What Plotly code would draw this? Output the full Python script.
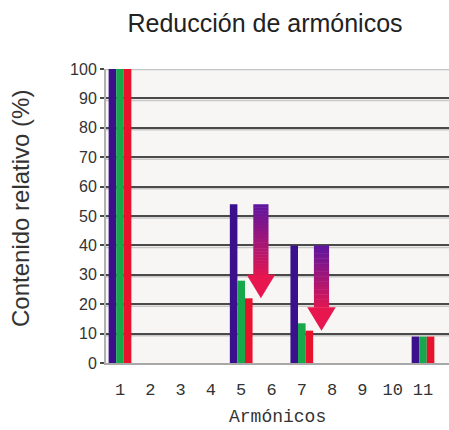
import plotly.graph_objects as go

# ---- data ----
harmonics = [1, 5, 7, 11]
tick_labels = [str(i) for i in range(1, 12)]
tick_values = list(range(1, 12))
series_names = ["Sin filtro", "Filtro A", "Filtro B"]
values_blue = [100, 54, 40, 9]
values_green = [100, 28, 13.5, 9]
values_red = [100, 22, 11, 9]
series_colors = ["#3a108c", "#17a84c", "#e8122c"]

arrow_x = [5.65, 7.65]
arrow_from = [54, 40]
arrow_to = [22, 11]

y_ticks = list(range(0, 101, 10))

# ---- figure ----
fig = go.Figure()
bar_w = 0.25
offsets = [-1.5 * bar_w, -0.5 * bar_w, 0.5 * bar_w]
for name, vals, col, off in zip(series_names, [values_blue, values_green, values_red], series_colors, offsets):
    fig.add_trace(go.Bar(x=harmonics, y=vals, name=name, width=bar_w, offset=off,
                         marker=dict(color=col, line=dict(width=0)), showlegend=False,
                         hoverinfo="x+y"))

shapes = []
# soft shadow under each grid line
for yv in y_ticks[1:-1]:
    shapes.append(dict(type="line", xref="paper", yref="y", x0=0, x1=1, y0=yv - 0.7, y1=yv - 0.7,
                       line=dict(color="#c8c8c8", width=1.5), layer="between"))
# top border line at 100 (light gray)
shapes.append(dict(type="line", xref="paper", yref="y", x0=0, x1=1, y0=100, y1=100,
                   line=dict(color="#c4c4c4", width=2.5), layer="between"))

shaft_half = 0.25
head_half = 0.47
head_h = 8.0
n_seg = 24
c_top = (96, 22, 158)
c_bot = (232, 22, 78)


def mix(t):
    r = [round(a + (b - a) * t) for a, b in zip(c_top, c_bot)]
    return "rgb({},{},{})".format(*r)


for xa, y0, y1 in zip(arrow_x, arrow_from, arrow_to):
    head_top = y1 + head_h
    step = (y0 - head_top) / n_seg
    for i in range(n_seg):
        ya = y0 - i * step
        yb = ya - step - 0.15
        shapes.append(dict(type="rect", xref="x", yref="y", x0=xa - shaft_half, x1=xa + shaft_half,
                           y0=yb, y1=ya, fillcolor=mix(i / (n_seg - 1) * 0.92), line=dict(width=0)))
    shapes.append(dict(type="path", xref="x", yref="y",
                       path="M {} {} L {} {} L {} {} Z".format(xa - head_half, head_top,
                                                               xa + head_half, head_top,
                                                               xa, y1),
                       fillcolor="rgb(232,22,78)", line=dict(width=0)))

fig.update_layout(
    width=449, height=430,
    margin=dict(l=106, r=0, t=69, b=67),
    paper_bgcolor="white",
    plot_bgcolor="#f8f6f5",
    barmode="overlay",
    title=dict(text="Reducción de armónicos", x=265 / 449, xanchor="center",
               y=1 - 23 / 430, yanchor="middle", xref="container", yref="container",
               font=dict(family="Liberation Sans, Arial", size=25, color="#222")),
    xaxis=dict(range=[0.538, 11.858], tickvals=tick_values, ticktext=tick_labels,
               showgrid=False, zeroline=False, showline=True, linecolor="#a8a8a8", linewidth=2,
               ticks="", ticklabelstandoff=10,
               tickfont=dict(family="Liberation Mono, Courier New", size=17, color="#333")),
    yaxis=dict(range=[0, 100], tickvals=y_ticks, showgrid=True, gridcolor="#4a4a4a", gridwidth=2,
               zeroline=False, showline=True, linecolor="#b0b0b0", linewidth=2,
               ticks="outside", ticklen=4, tickcolor="#4a4a4a", tickwidth=2,
               tickfont=dict(family="Liberation Sans, Arial", size=16, color="#333")),
    shapes=shapes,
    annotations=[
        dict(text="Contenido relativo (%)", xref="paper", yref="paper", x=(20 - 106) / 343,
             y=(363 - 208) / 294, xanchor="center", yanchor="middle", textangle=-90, showarrow=False,
             font=dict(family="Liberation Sans, Arial", size=24, color="#333")),
        dict(text="Armónicos", xref="paper", yref="paper", x=(277.5 - 106) / 343,
             y=(363 - 417) / 294, xanchor="center", yanchor="middle", showarrow=False,
             font=dict(family="Liberation Mono, Courier New", size=18, color="#333")),
    ],
)

fig.write_html("out.html", config={"displayModeBar": False},
               post_script="document.body.style.margin='0';")
